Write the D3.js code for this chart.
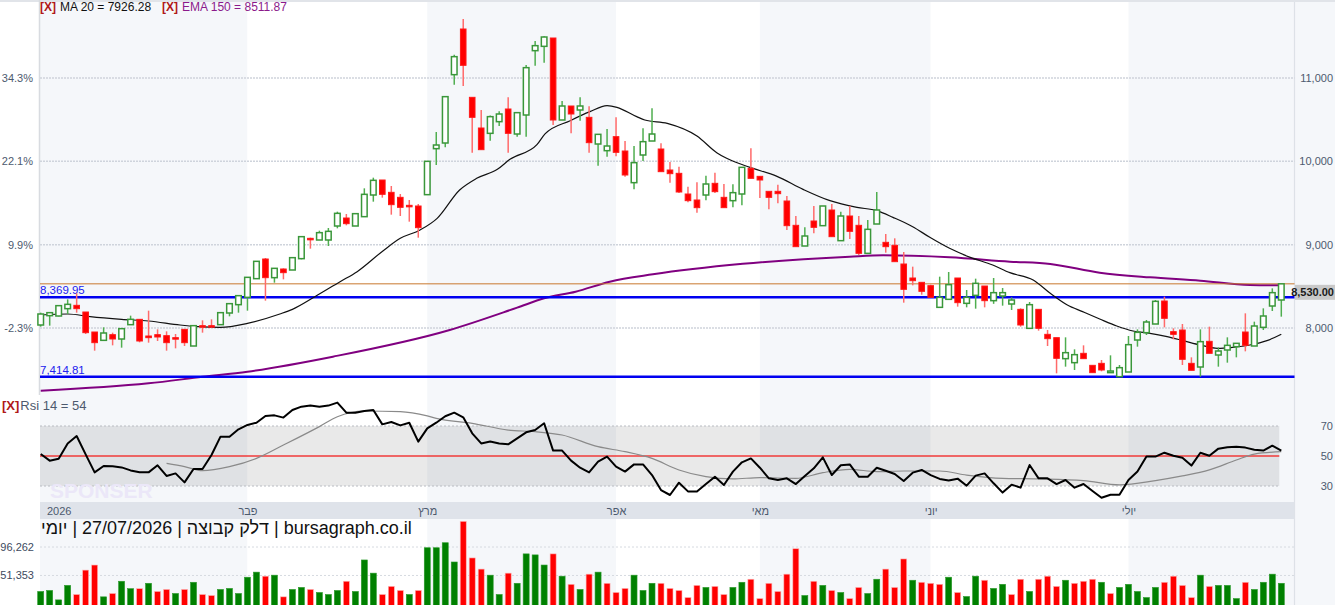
<!DOCTYPE html>
<html>
<head>
<meta charset="utf-8">
<script src="https://cdnjs.cloudflare.com/ajax/libs/d3/7.8.5/d3.min.js"></script>
<style>
  body { margin: 0; background: #fff; }
  svg { display: block; font-family: "Liberation Sans", Arial, sans-serif; }
</style>
</head>
<body>
<div id="chart-area"></div>
<script>
// daily candles, Jan - Jul 2026
var openVals = [8036, 8148, 8144, 8232, 8272, 8192, 7952, 7852, 7920, 7868,
  8040, 8104, 7904, 7920, 7908, 7884, 7984, 7784, 8028, 8028,
  8040, 8180, 8280, 8368, 8592, 8828, 8604, 8708, 8696, 8832,
  9076, 9056, 9056, 9224, 9320, 9224, 9336, 9596, 9776, 9628,
  9568, 9472, 9464, 9600, 10152, 10220, 11040, 11588, 10768, 10400,
  10336, 10476, 10628, 10328, 10556, 11328, 11380, 11480, 10496, 10664,
  10616, 10528, 10208, 10128, 10296, 10124, 9744, 10076, 10244, 10148,
  9896, 9856, 9608, 9536, 9596, 9736, 9568, 9528, 9608, 9916,
  9820, 9640, 9640, 9524, 9232, 8984, 9284, 9228, 9416, 9048,
  9344, 9232, 8896, 9248, 9028, 8992, 8768, 8600, 8548, 8508,
  8248, 8344, 8600, 8296, 8392, 8504, 8328, 8384, 8288, 8224,
  7996, 8224, 7924, 7884, 7632, 7584, 7696, 7552, 7576, 7464,
  7416, 7472, 7856, 7944, 8048, 8324, 7956, 7976, 7576, 7532,
  7840, 7676, 7736, 7776, 7952, 7784, 8008, 8264, 8336];

var highVals = [8184, 8192, 8276, 8344, 8416, 8192, 7952, 8008, 7944, 7992,
  8148, 8104, 8208, 7984, 7960, 7928, 7984, 8028, 8092, 8104,
  8184, 8292, 8392, 8608, 8800, 8840, 8716, 8716, 8844, 9096,
  9084, 9168, 9200, 9396, 9368, 9372, 9676, 9804, 9776, 9704,
  9608, 9536, 9488, 10000, 10352, 10776, 11280, 11708, 10768, 10616,
  10550, 10600, 10768, 10584, 11156, 11444, 11500, 11480, 10724, 10664,
  10768, 10660, 10324, 10388, 10528, 10244, 10184, 10396, 10636, 10216,
  9992, 9936, 9696, 9748, 9828, 9864, 9728, 9724, 9928, 10156,
  9820, 9640, 9720, 9584, 9344, 9208, 9464, 9464, 9488, 9396,
  9464, 9344, 9296, 9632, 9128, 9076, 8912, 8736, 8548, 8520,
  8616, 8672, 8600, 8456, 8592, 8504, 8600, 8480, 8368, 8236,
  8312, 8224, 7976, 7884, 7888, 7744, 7792, 7552, 7616, 7672,
  7556, 7904, 7984, 8096, 8336, 8376, 7996, 8048, 7648, 7984,
  8016, 7768, 7888, 7816, 8176, 8076, 8236, 8476, 8530];

var lowVals = [8016, 8028, 8140, 8168, 8184, 7928, 7728, 7852, 7792, 7764,
  8040, 7828, 7824, 7844, 7728, 7756, 7784, 7784, 7944, 8004,
  8040, 8140, 8184, 8208, 8592, 8328, 8544, 8584, 8696, 8824,
  8952, 9056, 8984, 9196, 9232, 9224, 9336, 9516, 9564, 9360,
  9344, 9276, 9084, 9600, 9956, 10168, 10920, 10904, 10104, 10140,
  10248, 10424, 10104, 10296, 10296, 11148, 11184, 10436, 10496, 10336,
  10488, 10104, 9948, 10056, 10060, 9816, 9664, 10004, 10244, 9876,
  9744, 9620, 9510, 9384, 9532, 9620, 9444, 9448, 9472, 9796,
  9560, 9424, 9496, 9176, 8976, 8984, 9136, 9228, 9096, 9048,
  9068, 8876, 8896, 9248, 8904, 8796, 8304, 8512, 8400, 8368,
  8248, 8344, 8256, 8248, 8232, 8248, 8290, 8268, 8216, 8016,
  7996, 7968, 7784, 7456, 7536, 7496, 7632, 7464, 7480, 7464,
  7416, 7472, 7776, 7916, 8048, 8008, 7864, 7556, 7492, 7416,
  7696, 7536, 7584, 7648, 7720, 7784, 7976, 8204, 8136];

var closeVals = [8168, 8184, 8268, 8284, 8232, 7944, 7824, 7940, 7868, 7992,
  8104, 7844, 7884, 7892, 7824, 7876, 7824, 8028, 8020, 8020,
  8184, 8292, 8388, 8608, 8800, 8604, 8716, 8664, 8844, 9096,
  9068, 9144, 9160, 9376, 9252, 9372, 9604, 9772, 9604, 9480,
  9448, 9468, 9204, 10000, 10196, 10776, 11256, 11152, 10528, 10140,
  10536, 10568, 10336, 10584, 11124, 11388, 11492, 10496, 10664, 10568,
  10664, 10224, 10324, 10184, 10108, 9836, 9984, 10236, 10328, 9876,
  9852, 9632, 9528, 9444, 9728, 9636, 9444, 9624, 9928, 9796,
  9776, 9568, 9612, 9228, 8976, 9104, 9208, 9464, 9096, 9344,
  9160, 8896, 9184, 9416, 8976, 8796, 8464, 8568, 8440, 8368,
  8368, 8520, 8304, 8368, 8536, 8328, 8424, 8424, 8336, 8036,
  8280, 7996, 7872, 7636, 7704, 7680, 7632, 7464, 7496, 7484,
  7524, 7800, 7948, 8072, 8320, 8116, 7924, 7624, 7492, 7836,
  7696, 7724, 7792, 7816, 7792, 8024, 8144, 8424, 8530];

var volumeVals = [26100, 27700, 12800, 35700, 21300, 59800, 67800, 17600, 22900, 42200,
  30500, 30500, 39000, 26100, 29300, 22900, 29300, 40600, 21300, 19700,
  29300, 30900, 22900, 48600, 56600, 50200, 51800, 17600, 29300, 32500,
  29300, 24500, 21300, 27700, 42200, 26100, 75800, 55000, 21300, 34100,
  27700, 21300, 27700, 95100, 95100, 103000, 72600, 136700, 79000, 61400,
  51800, 21300, 55000, 39000, 85400, 83800, 67800, 85400, 50200, 37400,
  29300, 53400, 56600, 39000, 24500, 30900, 51800, 27700, 39000, 39000,
  30900, 27700, 16500, 35700, 32500, 34100, 21300, 32500, 40600, 45400,
  14900, 39000, 26100, 53400, 93500, 19700, 42200, 35700, 27700, 24500,
  14900, 32500, 22900, 45400, 61400, 32500, 77400, 43800, 40600, 39000,
  37400, 48600, 24500, 18100, 50200, 43800, 30900, 37400, 21300, 45400,
  26100, 45400, 50200, 34100, 43800, 39000, 42200, 45400, 40600, 22900,
  32500, 37400, 26100, 16500, 32500, 40600, 50200, 35700, 16500, 51800,
  34100, 35700, 35700, 14900, 40600, 29300, 40600, 53400, 39000];

// 1 = up day (green bar), 0 = down day (red bar)
var volumeUp = [1, 1, 1, 1, 0, 0, 0, 1, 0, 1, 1, 0, 1, 0, 0, 1, 0, 1, 0, 0,
  1, 1, 1, 1, 1, 0, 1, 0, 1, 1, 0, 1, 1, 1, 0, 1, 1, 1, 0, 0,
  0, 1, 0, 1, 1, 1, 1, 0, 0, 0, 1, 1, 0, 1, 1, 1, 1, 0, 1, 0,
  1, 0, 1, 0, 0, 0, 1, 1, 1, 0, 0, 0, 0, 0, 1, 0, 0, 1, 1, 0,
  0, 0, 0, 0, 0, 1, 0, 1, 0, 1, 0, 0, 1, 1, 0, 0, 0, 1, 0, 0,
  0, 1, 0, 1, 1, 0, 1, 1, 0, 0, 1, 0, 0, 0, 1, 0, 0, 0, 1, 0,
  1, 1, 1, 1, 1, 0, 0, 0, 0, 1, 0, 1, 1, 1, 0, 1, 1, 1, 1];

// MA 20: candle index / value
var ma20Index = [0, 3, 5.5, 9, 12, 15.5, 17.5, 20, 23, 26.6, 28, 30.5, 33.3, 35.2, 38.1, 40, 42.2,
  44.1, 46.6, 48.5, 50.8, 52.2, 55.2, 56.1, 58.9, 61.1, 63, 64.1, 66.3, 67.2, 69.7, 73, 75.2,
  76.3, 78.9, 81.9, 84.8, 87.8, 90.8, 93, 94.8, 97, 98.9, 101.1, 103.4, 105.9, 107.8, 110.4,
  112.3, 114.2, 115.9, 117.8, 119.7, 121.5, 123.4, 125.3, 127.1, 129, 130.9, 132.6, 134.5, 136.4, 138];
var ma20Vals = [8156, 8168, 8136, 8104, 8084, 8036, 8016, 8008, 8056, 8168, 8224, 8376, 8556, 8676, 8928, 9076, 9176,
  9316, 9656, 9796, 9904, 10024, 10200, 10330, 10488, 10596, 10668, 10648, 10536, 10496, 10456, 10304, 10104,
  10036, 9928, 9820, 9664, 9528, 9448, 9408, 9328, 9216, 9088, 8956, 8848, 8756, 8664, 8576,
  8416, 8276, 8196, 8108, 8024, 7964, 7936, 7896, 7848, 7796, 7756, 7768, 7796, 7848, 7926];

// EMA 150
var ema150Index = [0, 12, 18, 23, 32.5, 45.5, 53, 56, 59.5, 63.3, 68.1, 78.1, 90, 93.7, 101.1, 107.8, 112.3, 117.8, 123.4, 129, 134.5, 138];
var ema150Vals = [7248, 7336, 7414, 7476, 7656, 7976, 8244, 8356, 8436, 8556, 8644, 8770, 8856, 8872, 8848, 8796, 8768, 8664, 8608, 8568, 8516, 8512];

// RSI 14
var rsiVals = [51.3, 46.9, 48.2, 58.4, 63.3, 51.1, 39.1, 43.3, 43.1, 42.4,
  40.4, 39.1, 39.1, 43.8, 36.7, 38.4, 32.4, 41.3, 41.3, 50.7,
  62.9, 62.9, 67.8, 70.7, 72.2, 76.7, 77.1, 75.6, 80.7, 82.9,
  83.6, 82.9, 83.6, 85.6, 78.9, 78.9, 80, 80.7, 71.1, 72.7,
  70.4, 72.2, 59.6, 68.4, 72.2, 76.5, 78.9, 75.8, 65.1, 58.4,
  59.6, 58.4, 57.8, 61.8, 65.8, 67.3, 71.8, 53.6, 53.6, 46.9,
  42.2, 39.1, 46.2, 49.6, 42.9, 39.6, 44.4, 44.4, 37.3, 27.3,
  24, 32.2, 26.4, 26.4, 31.3, 36.2, 30.7, 39.6, 45.8, 48.4,
  42.2, 35.1, 34, 35.1, 31.3, 36.7, 41.8, 49.1, 37.3, 43.8,
  44.4, 36.2, 36.2, 42.2, 40.2, 38, 33.3, 38.9, 40.7, 37.3,
  34.7, 33.6, 34.9, 30.2, 36.9, 38.4, 31.8, 25.6, 30.9, 28.9,
  44, 35.1, 35.1, 31.3, 34, 28.9, 31.3, 26.7, 22.2, 24.2,
  24.2, 34, 39.6, 49.6, 49.6, 52.2, 50.2, 48.9, 43.6, 52.2,
  50.2, 54.9, 55.8, 56.2, 55.6, 54.2, 53.6, 56.9, 53.6];

// RSI signal (grey line)
var rsiSigIndex = [14, 16, 18, 21, 24, 27, 31, 33, 36, 40, 43, 44, 48, 52, 55, 58, 62, 65, 68, 71, 74, 77, 80,
  84, 87, 90, 93, 96, 100, 103, 107, 111, 116, 120, 124, 127, 130, 133, 135, 138];
var rsiSigVals = [45.1, 42.9, 40.2, 42.9, 48.4, 57.3, 69.6, 76.2, 80, 79.6, 76.7, 75.1, 71.8, 67.3, 66.2, 64, 56.2, 52.9, 48.4, 40.7, 36.2, 34.7, 35.6,
  35.1, 38.9, 41.1, 39.6, 40, 40, 37.3, 35.1, 34.7, 33.6, 30.7, 33.6, 36.7, 40.7, 47.3, 51.3, 52.9];

var monthStart = [0, 23, 43, 64, 80, 99, 121];
var monthNames = ["2026", "פבר", "מרץ", "אפר", "מאי", "יוני", "יולי"];

var priceTicks = [8000, 9000, 10000, 11000];
var pctLabels = ["-2.3%", "9.9%", "22.1%", "34.3%"];
var levelLines = [8369.95, 7414.81];
var volTicks = [51353, 96262];
var rsiTicks = [30, 50, 70];

var ma20Last = "7926.28";
var ema150Last = "8511.87";
var rsiLast = 54;
var titleText = "bursagraph.co.il | דלק קבוצה | 27/07/2026 | יומי";


CandleChart = function (_parentElement) {
  this.parentElement = _parentElement;
  this.initVis();
};

CandleChart.prototype.initVis = function () {
  var vis = this;

  vis.width = 1335;
  vis.height = 605;
  vis.left = 40;
  vis.right = 1294.5;

  vis.svg = d3.select(vis.parentElement)
    .append("svg")
    .attr("width", vis.width)
    .attr("height", vis.height);

  // scales
  vis.x = d3.scaleLinear()
    .domain([0, closeVals.length - 1])
    .range([40.7, 1281.3]);

  vis.y = d3.scaleLinear()
    .domain([8000, 11000])
    .range([328, 78]);

  vis.yRsi = d3.scaleLinear()
    .domain([30, 70])
    .range([486, 426]);

  vis.yVol = d3.scaleLinear()
    .domain([0, 96262])
    .range([608, 547]);

  vis.candles = closeVals.map(function (c, i) {
    return { i: i, o: openVals[i], h: highVals[i], l: lowVals[i], c: c };
  });

  vis.updateVis();
};

CandleChart.prototype.updateVis = function () {
  var vis = this;
  var x = vis.x, y = vis.y;

  /* month bands */
  vis.svg.append("g").selectAll("rect")
    .data(monthStart).enter()
    .append("rect")
    .attr("x", function (d, k) { return k === 0 ? vis.left : x(d); })
    .attr("y", 0)
    .attr("width", function (d, k) {
      var x0 = k === 0 ? vis.left : x(d);
      var x1 = k === monthStart.length - 1 ? vis.right : x(monthStart[k + 1]);
      return x1 - x0;
    })
    .attr("height", vis.height)
    .attr("fill", function (d, k) { return k % 2 === 0 ? "#f5f7fa" : "#ffffff"; });

  // right axis area
  vis.svg.append("rect")
    .attr("x", vis.right).attr("y", 0)
    .attr("width", vis.width - vis.right).attr("height", vis.height)
    .attr("fill", "#f5f7fa");
  vis.svg.append("line")
    .attr("x1", vis.right).attr("x2", vis.right)
    .attr("y1", 0).attr("y2", vis.height)
    .attr("stroke", "#dde1e7").attr("stroke-width", 1.2);

  // frame lines
  vis.svg.append("line")
    .attr("x1", 0).attr("x2", vis.width).attr("y1", 1).attr("y2", 1)
    .attr("stroke", "#e1e4e9").attr("stroke-width", 2);
  vis.svg.append("line")
    .attr("x1", vis.left - 0.5).attr("x2", vis.left - 0.5).attr("y1", 0).attr("y2", 395)
    .attr("stroke", "#d8dbe0").attr("stroke-width", 1.5);

  /* price grid */
  vis.svg.append("g").selectAll("line")
    .data(priceTicks).enter()
    .append("line")
    .attr("x1", vis.left).attr("x2", vis.right)
    .attr("y1", d => y(d)).attr("y2", d => y(d))
    .attr("stroke", "#cfd4dc").attr("stroke-width", 1.5)
    .attr("stroke-dasharray", "2,1");

  // axes
  var leftAxis = d3.axisLeft(y)
    .tickValues(priceTicks)
    .tickSize(0)
    .tickPadding(5)
    .tickFormat(function (d, i) { return pctLabels[i]; });

  var rightAxis = d3.axisRight(y)
    .tickValues(priceTicks)
    .tickSize(0)
    .tickFormat(d3.format(","));

  var leftG = vis.svg.append("g")
    .attr("transform", "translate(" + (vis.left - 2) + ",0)")
    .call(leftAxis);
  var rightG = vis.svg.append("g")
    .attr("transform", "translate(" + vis.right + ",0)")
    .call(rightAxis);

  [leftG, rightG].forEach(function (g) {
    g.select(".domain").remove();
    g.selectAll("text")
      .attr("fill", "#4d5a6e")
      .style("font-size", "11px")
      .style("font-family", "'Liberation Sans', Arial, sans-serif");
  });
  rightG.selectAll("text").attr("text-anchor", "end").attr("x", 38.5);

  /* EMA 150 */
  vis.svg.append("path")
    .datum(ema150Index.map((d, k) => [d, ema150Vals[k]]))
    .attr("fill", "none")
    .attr("stroke", "#800080")
    .attr("stroke-width", 2)
    .attr("d", d3.line().x(d => x(d[0])).y(d => y(d[1])).curve(d3.curveMonotoneX));

  /* level lines */
  vis.svg.append("line")
    .attr("x1", vis.left).attr("x2", vis.right)
    .attr("y1", y(closeVals[closeVals.length - 1])).attr("y2", y(closeVals[closeVals.length - 1]))
    .attr("stroke", "#c8782e").attr("stroke-width", 1);

  vis.svg.append("g").selectAll("line")
    .data(levelLines).enter()
    .append("line")
    .attr("x1", vis.left).attr("x2", vis.right)
    .attr("y1", d => y(d)).attr("y2", d => y(d))
    .attr("stroke", "#0000f0").attr("stroke-width", 2.5);

  vis.svg.append("g").selectAll("text")
    .data(levelLines).enter()
    .append("text")
    .attr("x", vis.left)
    .attr("y", d => y(d) - 3)
    .attr("fill", "#2222ee")
    .style("font-size", "11.5px")
    .text(d => d3.format(",.2f")(d));

  /* MA 20 */
  vis.svg.append("path")
    .datum(ma20Index.map((d, k) => [d, ma20Vals[k]]))
    .attr("fill", "none")
    .attr("stroke", "#111")
    .attr("stroke-width", 1.2)
    .attr("d", d3.line().x(d => x(d[0])).y(d => y(d[1])).curve(d3.curveMonotoneX));

  /* candles */
  var candleG = vis.svg.append("g").attr("class", "candles");

  candleG.selectAll("line.wick")
    .data(vis.candles).enter()
    .append("line")
    .attr("class", "wick")
    .attr("x1", d => x(d.i)).attr("x2", d => x(d.i))
    .attr("y1", d => y(d.h)).attr("y2", d => y(d.l))
    .attr("stroke", d => d.c >= d.o ? "#4fae4f" : "#ff6a6a")
    .attr("stroke-width", 1.5);

  candleG.selectAll("rect.body")
    .data(vis.candles).enter()
    .append("rect")
    .attr("class", "body")
    .attr("x", d => x(d.i) - 2.8)
    .attr("width", 5.6)
    .attr("y", d => y(Math.max(d.o, d.c)))
    .attr("height", d => Math.max(1.5, Math.abs(y(d.o) - y(d.c))))
    .attr("fill", d => d.c >= d.o ? "#ffffff" : "#ff0000")
    .attr("stroke", d => d.c >= d.o ? "#3a973a" : "#ff1a1a")
    .attr("stroke-width", d => d.c >= d.o ? 1.5 : 1);

  // last price tag
  var lastY = y(closeVals[closeVals.length - 1]);
  vis.svg.append("rect")
    .attr("x", vis.right + 0.5).attr("y", lastY + 1)
    .attr("width", vis.width - vis.right).attr("height", 15)
    .attr("fill", "#c9c9c9");
  vis.svg.append("text")
    .attr("x", vis.width - 1)
    .attr("y", lastY + 12.5)
    .attr("text-anchor", "end")
    .attr("fill", "#1a1a1a")
    .style("font-size", "11px")
    .style("font-weight", "bold")
    .text(d3.format(",.2f")(closeVals[closeVals.length - 1]));

  /* legend */
  var leg = vis.svg.append("text").attr("x", vis.left).attr("y", 11).style("font-size", "12px");
  leg.append("tspan").attr("fill", "#b01818").style("font-weight", "bold").text("[X]");
  leg.append("tspan").attr("fill", "#111").attr("dx", 4).text("MA 20 = " + ma20Last);
  leg.append("tspan").attr("fill", "#b01818").attr("dx", 11).style("font-weight", "bold").text("[X]");
  leg.append("tspan").attr("fill", "#8b1a8b").attr("dx", 4).text("EMA 150 = " + ema150Last);

  /* RSI panel */
  var yRsi = vis.yRsi;
  vis.svg.append("rect")
    .attr("x", vis.left).attr("y", yRsi(70))
    .attr("width", x(closeVals.length - 1) - vis.left - 2)
    .attr("height", yRsi(30) - yRsi(70))
    .attr("fill", "#000").attr("fill-opacity", 0.085);

  vis.svg.append("g").selectAll("line")
    .data([30, 70]).enter()
    .append("line")
    .attr("x1", vis.left).attr("x2", x(closeVals.length - 1) - 2)
    .attr("y1", d => yRsi(d)).attr("y2", d => yRsi(d))
    .attr("stroke", "#b9bcc2").attr("stroke-width", 1)
    .attr("stroke-dasharray", "2,2");

  vis.svg.append("line")
    .attr("x1", vis.left).attr("x2", x(closeVals.length - 1) - 2)
    .attr("y1", yRsi(50)).attr("y2", yRsi(50))
    .attr("stroke", "#f03a3a").attr("stroke-width", 1.3);

  // watermark
  vis.svg.append("text")
    .attr("x", 50).attr("y", 498)
    .attr("fill", "#ebe7f8")
    .style("font-size", "21px")
    .style("font-weight", "bold")
    .text("SPONSER");

  vis.svg.append("path")
    .datum(rsiSigIndex.map((d, k) => [d, rsiSigVals[k]]))
    .attr("fill", "none")
    .attr("stroke", "#8a8a8a")
    .attr("stroke-width", 1.2)
    .attr("d", d3.line().x(d => x(d[0])).y(d => yRsi(d[1])).curve(d3.curveMonotoneX));

  vis.svg.append("path")
    .datum(rsiVals)
    .attr("fill", "none")
    .attr("stroke", "#000")
    .attr("stroke-width", 2)
    .attr("stroke-linejoin", "round")
    .attr("d", d3.line().x((d, i) => x(i)).y(d => yRsi(d)));

  var rsiAxis = d3.axisRight(yRsi).tickValues(rsiTicks).tickSize(0);
  var rsiG = vis.svg.append("g")
    .attr("transform", "translate(" + vis.right + ",0)")
    .call(rsiAxis);
  rsiG.select(".domain").remove();
  rsiG.selectAll("text")
    .attr("text-anchor", "end").attr("x", 38.5)
    .attr("fill", "#4d5a6e")
    .style("font-size", "11px")
    .style("font-family", "'Liberation Sans', Arial, sans-serif");

  var rsiLeg = vis.svg.append("text").attr("x", 2).attr("y", 410).style("font-size", "13px");
  rsiLeg.append("tspan").attr("fill", "#b01818").style("font-weight", "bold").text("[X]");
  rsiLeg.append("tspan").attr("fill", "#4d5a6e").attr("dx", 1).text("Rsi 14 = " + rsiLast);

  /* month strip */
  vis.svg.append("rect")
    .attr("x", vis.left).attr("y", 502)
    .attr("width", vis.right - vis.left).attr("height", 17)
    .attr("fill", "#dfe3ea");

  var monthAxis = d3.axisBottom(x)
    .tickValues(monthStart)
    .tickSize(0)
    .tickPadding(0)
    .tickFormat(function (d, k) { return monthNames[k]; });

  var monthG = vis.svg.append("g")
    .attr("transform", "translate(0,504)")
    .call(monthAxis);
  monthG.select(".domain").remove();
  monthG.selectAll("text")
    .attr("fill", "#4d5a6e")
    .attr("dy", "1em")
    .style("font-size", "11px")
    .style("font-family", "'Liberation Sans', Arial, sans-serif")
    .attr("dx", function (d, k) { return k === 0 ? 18 : 0; });

  /* title */
  vis.svg.append("text")
    .attr("x", 41)
    .attr("y", 534)
    .attr("direction", "rtl")
    .attr("text-anchor", "end")
    .style("unicode-bidi", "embed")
    .attr("fill", "#111")
    .style("font-size", "18px")
    .text(titleText);

  /* volume */
  var yVol = vis.yVol;
  vis.svg.append("g").selectAll("line")
    .data(volTicks).enter()
    .append("line")
    .attr("x1", vis.left).attr("x2", vis.right)
    .attr("y1", d => yVol(d)).attr("y2", d => yVol(d))
    .attr("stroke", "#d6dae0").attr("stroke-width", 1)
    .attr("stroke-dasharray", "2,2");

  vis.svg.append("g").selectAll("text")
    .data(volTicks).enter()
    .append("text")
    .attr("x", 34)
    .attr("y", d => yVol(d) + 4)
    .attr("text-anchor", "end")
    .attr("fill", "#3d4a5e")
    .style("font-size", "11px")
    .text(d => d3.format(",")(d));

  vis.svg.append("g").selectAll("rect")
    .data(volumeVals).enter()
    .append("rect")
    .attr("x", (d, i) => x(i) - 3)
    .attr("width", 6)
    .attr("y", d => yVol(d))
    .attr("height", d => yVol(0) - yVol(d))
    .attr("fill", (d, i) => volumeUp[i] ? "#008000" : "#ff0000")
    .attr("stroke", (d, i) => volumeUp[i] ? "#2a9a2a" : "#ffb3b3")
    .attr("stroke-width", 0.6);
};

var chart = new CandleChart("#chart-area");
</script>
</body>
</html>
